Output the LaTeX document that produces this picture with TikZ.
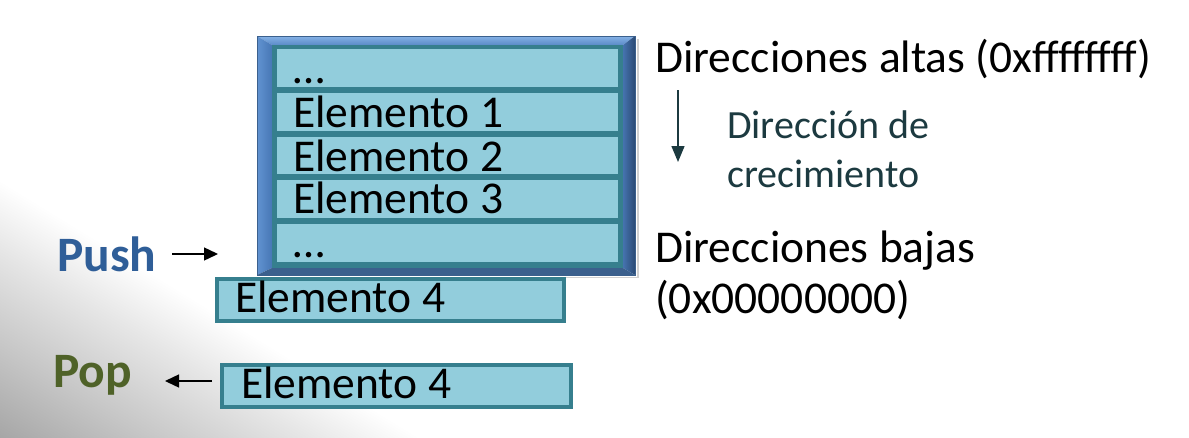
\documentclass[tikz,border=0pt]{standalone}
\usepackage{fontspec}
\setmainfont{Carlito}
\usetikzlibrary{arrows.meta}
\definecolor{rowfill}{HTML}{92CDDC}
\definecolor{tealb}{HTML}{367F8E}
\definecolor{bevtopA}{HTML}{86B2E6}
\definecolor{bevtopB}{HTML}{5A8BC8}
\definecolor{bevleftA}{HTML}{6193D1}
\definecolor{bevleftB}{HTML}{4777B5}
\definecolor{bevrightA}{HTML}{4573AF}
\definecolor{bevrightB}{HTML}{2B4A74}
\definecolor{bevbot}{HTML}{3B608D}
\definecolor{pushc}{HTML}{2F5E98}
\definecolor{popc}{HTML}{4F6228}
\definecolor{growc}{HTML}{1C3A40}
\definecolor{bgA}{HTML}{A6A6A6}
\definecolor{bgB}{HTML}{C6C6C6}
\definecolor{bgC}{HTML}{E6E6E6}
\pgfdeclareverticalshading{bgfade}{100bp}{color(0bp)=(bgA); color(27bp)=(bgA); color(44bp)=(bgB); color(62bp)=(bgC); color(75bp)=(white); color(100bp)=(white)}
\tikzset{
  rowbox/.style={fill=rowfill, inner sep=0pt, anchor=north west, minimum width=341pt},
  elbox/.style={draw=tealb, line width=4pt, fill=rowfill, inner sep=0pt, anchor=north west, minimum height=42pt},
  eltext/.style={anchor=base west, inner sep=0pt, font=\fontsize{45.5}{50}\selectfont},
  rtext/.style={anchor=base west, inner sep=0pt, font=\fontsize{45.5}{50}\selectfont},
  gtext/.style={anchor=base west, inner sep=0pt, text=growc, font=\fontsize{40}{44}\selectfont},
  optext/.style={anchor=base west, inner sep=0pt, font=\bfseries\fontsize{49.5}{52}\selectfont},
  arr/.style={-{Triangle[length=14pt,width=13pt]}, line width=1.4pt, black},
}
\begin{document}
\begin{tikzpicture}[x=1pt,y=-1pt]
\path[use as bounding box, fill=white] (0,0) rectangle (1189,437);
\begin{scope}
  \clip (0,0) rectangle (1189,437);
  \begin{scope}[transform canvas={rotate around={-31.5:(0,437)}}]
    \shade[shading=bgfade] (-800,447) rectangle (800,218);
  \end{scope}
\end{scope}
% soft shadow of the frame
\fill[black!18] (637,39) rectangle (639,278);
\fill[black!18] (260,277) rectangle (639,278);
% bevelled frame
\shade[top color=bevtopA, bottom color=bevtopB] (257,36) -- (635,36) -- (623,45) -- (272,45) -- cycle;
\shade[left color=bevleftA, right color=bevleftB] (257,36) -- (272,45) -- (272,268) -- (257,275) -- cycle;
\shade[left color=bevrightA, right color=bevrightB] (635,36) -- (635,275) -- (623,268) -- (623,45) -- cycle;
\fill[bevbot] (257,275) -- (635,275) -- (623,268) -- (272,268) -- cycle;
\draw[bevbot, line width=0.6pt] (257,36) rectangle (635,275);
\fill[tealb] (272,45) rectangle (623,268);
% rows
\node[rowbox, minimum height=38pt] (r0) at (277,49) {};
\node[rowbox, minimum height=38pt] (r1) at (277,93) {};
\node[rowbox, minimum height=37pt] (r2) at (277,137) {};
\node[rowbox, minimum height=38pt] (r3) at (277,180) {};
\node[rowbox, minimum height=38pt] (r4) at (277,224) {};
\node[eltext] (t0) at (293,83) {…};
\node[eltext] (t1) at (293,127) {Elemento 1};
\node[eltext] (t2) at (293,171) {Elemento 2};
\node[eltext] (t3) at (293,213) {Elemento 3};
\node[eltext] (t4) at (293,257) {…};
% element 4 boxes
\node[elbox, minimum width=347pt] (pushbox) at (215,277) {};
\node[eltext] (pusht) at (235,312) {Elemento 4};
\node[elbox, minimum width=349pt] (popbox) at (220,363) {};
\node[eltext] (popt) at (241,398) {Elemento 4};
% push / pop labels
\node[optext, text=pushc] (push) at (57,271) {Push};
\node[optext, text=popc] (pop) at (53,387) {Pop};
\coordinate (pushA) at (172,254);
\coordinate (pushB) at (218,254);
\coordinate (popA) at (212,381);
\coordinate (popB) at (165,381);
\draw[arr] (pushA) -- (pushB);
\draw[arr] (popA) -- (popB);
% right side
\node[rtext] (high) at (655,72) {Direcciones altas (0xffffffff)};
\node[gtext] (g1t) at (727,138) {Dirección de};
\node[gtext] (g2t) at (727,187) {crecimiento};
\coordinate (gA) at (678,90);
\coordinate (gB) at (678,162);
\draw[-{Triangle[length=16pt,width=13pt]}, line width=1.4pt, growc] (gA) -- (gB);
\node[rtext] (low1) at (655,262) {Direcciones bajas};
\node[rtext] (low2) at (655,313) {(0x00000000)};
\end{tikzpicture}
\end{document}
